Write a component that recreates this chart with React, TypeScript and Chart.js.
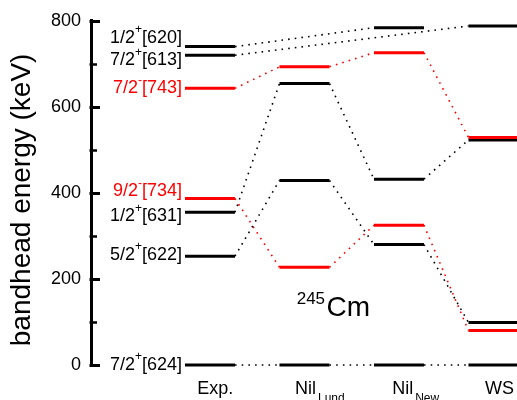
import React, { useEffect, useRef } from "react";
import { Chart, registerables } from "chart.js";

Chart.register(...registerables);

const FONT = '"Liberation Sans", Arial, Helvetica, sans-serif';

// Columns (calculation / experiment)
const columnNames = ["Exp.", "Nil", "Nil", "WS"];
const columnSubscripts = ["", "Lund", "New", ""];

// Bandhead energies (keV) per column: Exp., Nil_Lund, Nil_New, WS (null = no level)
const band624 = [0, 0, 0, 0];
const band622 = [253, 429, 280, 99];
const band631 = [355, 654, 432, 523];
const band734 = [387, 227, 325, 80];
const band743 = [643, 693, 726, 529];
const band613 = [720, null, null, 788];
const band620 = [740, null, 784, null];

const bands = [band624, band622, band631, band734, band743, band613, band620];
const bandSpins = ["7/2", "5/2", "1/2", "9/2", "7/2", "7/2", "1/2"];
const bandParities = ["+", "+", "+", "-", "-", "+", "+"];
const bandNilsson = ["[624]", "[622]", "[631]", "[734]", "[743]", "[613]", "[620]"];

const yTickValues = [0, 200, 400, 600, 800];
const yTitle = "bandhead energy (keV)";
const nucleusMass = "245";
const nucleusName = "Cm";

// styling
const RED = "#ff0000";
const BLACK = "#000000";
const HALF_BAR = 0.2646; // half width of a level bar in column units
const labelNudge = [0, -1, 4, -7, 0, 5, -9]; // px vertical nudge of the Exp. labels
const columnLabelShift = [-12.7, -9.5, -6.8, -8.5]; // px from column centre to label start

function bandColor(i: number) {
  return bandParities[i] === "-" ? RED : BLACK;
}

function levelPoints(band: (number | null)[]) {
  const pts: any[] = [];
  band.forEach((v, i) => {
    if (v === null) return;
    pts.push({ x: i - HALF_BAR, y: v });
    pts.push({ x: i + HALF_BAR, y: v });
    pts.push({ x: i + HALF_BAR, y: null });
  });
  return pts;
}

function connectorPoints(band: (number | null)[]) {
  const pts: any[] = [];
  let prev = -1;
  band.forEach((v, i) => {
    if (v === null) return;
    if (prev >= 0) {
      pts.push({ x: prev + HALF_BAR, y: band[prev] });
      pts.push({ x: i - HALF_BAR, y: v });
      pts.push({ x: i - HALF_BAR, y: null });
    }
    prev = i;
  });
  return pts;
}

const annotationPlugin = {
  id: "levelAnnotations",
  afterDraw(chart: any) {
    const { ctx, chartArea, scales } = chart;
    const xs = scales.x;
    const ys = scales.y;
    ctx.save();

    // inward ticks (major + minor)
    ctx.strokeStyle = BLACK;
    for (let v = 0; v <= 800; v += 100) {
      const major = v % 200 === 0;
      const y = Math.round(ys.getPixelForValue(v)) + 0.5;
      ctx.lineWidth = major ? 3 : 2.5;
      ctx.beginPath();
      ctx.moveTo(chartArea.left - 1.5, y);
      ctx.lineTo(chartArea.left + (major ? 9 : 6), y);
      ctx.stroke();
    }

    // y axis title
    ctx.save();
    ctx.translate(22.5, (chartArea.top + chartArea.bottom) / 2 + 7);
    ctx.rotate(-Math.PI / 2);
    ctx.fillStyle = BLACK;
    ctx.textAlign = "center";
    ctx.textBaseline = "middle";
    ctx.font = `28px ${FONT}`;
    ctx.fillText(yTitle, 0, 0);
    ctx.restore();

    // level labels for the experimental column
    const xRight = xs.getPixelForValue(0 - HALF_BAR) - 3;
    bands.forEach((band, i) => {
      const v = band[0];
      if (v === null) return;
      const y = ys.getPixelForValue(v) + labelNudge[i];
      ctx.fillStyle = bandColor(i);
      ctx.textBaseline = "middle";
      ctx.textAlign = "left";
      ctx.font = `18px ${FONT}`;
      const w1 = ctx.measureText(bandSpins[i]).width;
      const w3 = ctx.measureText(bandNilsson[i]).width;
      ctx.font = `12px ${FONT}`;
      const w2 = ctx.measureText(bandParities[i]).width;
      let x = xRight - (w1 + w2 + w3);
      ctx.font = `18px ${FONT}`;
      ctx.fillText(bandSpins[i], x, y);
      x += w1;
      ctx.font = `12px ${FONT}`;
      ctx.fillText(bandParities[i], x, y - 8);
      x += w2;
      ctx.font = `18px ${FONT}`;
      ctx.fillText(bandNilsson[i], x, y);
    });

    // column labels
    ctx.fillStyle = BLACK;
    ctx.textBaseline = "alphabetic";
    ctx.textAlign = "left";
    columnNames.forEach((name, i) => {
      let x = xs.getPixelForValue(i) + columnLabelShift[i];
      const y = chartArea.bottom + 28.5;
      ctx.font = `18px ${FONT}`;
      ctx.fillText(name, x, y);
      x += ctx.measureText(name).width + 2;
      if (columnSubscripts[i]) {
        ctx.font = `12px ${FONT}`;
        ctx.fillText(columnSubscripts[i], x, y + 8.5);
      }
    });

    // nucleus label
    {
      let x = xs.getPixelForValue(1) - 7.8;
      const y = ys.getPixelForValue(113);
      ctx.font = `17px ${FONT}`;
      ctx.fillText(nucleusMass, x, y - 12.5);
      x += ctx.measureText(nucleusMass).width + 1.5;
      ctx.font = `28px ${FONT}`;
      ctx.fillText(nucleusName, x, y);
    }
    ctx.restore();
  },
};

export default function App() {
  const canvasRef = useRef<HTMLCanvasElement | null>(null);

  useEffect(() => {
    const canvas = canvasRef.current;
    if (!canvas) return;
    const datasets: any[] = [];
    bands.forEach((band, i) => {
      const color = bandColor(i);
      const red = color === RED;
      datasets.push({
        type: "line",
        data: levelPoints(band),
        borderColor: color,
        borderWidth: 3,
        pointRadius: 0,
        spanGaps: false,
        clip: false,
        fill: false,
        tension: 0,
        order: red ? 0 : 1,
      });
      datasets.push({
        type: "line",
        data: connectorPoints(band),
        borderColor: color,
        borderWidth: 1.6,
        borderDash: [1.6, 5.1],
        pointRadius: 0,
        spanGaps: false,
        clip: false,
        fill: false,
        tension: 0,
        order: 2,
      });
    });

    const chart = new Chart(canvas, {
      type: "line",
      data: { datasets },
      options: {
        responsive: false,
        animation: false,
        devicePixelRatio: 1,
        layout: { padding: { top: 17, bottom: 35, left: 0, right: 0 } },
        plugins: { legend: { display: false }, tooltip: { enabled: false } },
        scales: {
          x: { type: "linear", display: false, min: -1.259, max: 3.249 },
          y: {
            type: "linear",
            min: 0,
            max: 800,
            afterFit: (s: any) => {
              s.width = 91;
            },
            afterBuildTicks: (s: any) => {
              s.ticks = yTickValues.map((v) => ({ value: v }));
            },
            grid: { display: true, drawOnChartArea: false, drawTicks: false },
            border: { display: true, width: 3, color: BLACK },
            ticks: {
              color: BLACK,
              padding: 10,
              font: { size: 18, family: FONT },
            },
            title: { display: false },
          },
        },
      },
      plugins: [annotationPlugin],
    } as any);
    return () => chart.destroy();
  }, []);

  return (
    <div style={{ position: "fixed", left: 0, top: 0, width: 517, height: 400, background: "#fff" }}>
      <canvas ref={canvasRef} width={517} height={400} style={{ display: "block" }} />
    </div>
  );
}
